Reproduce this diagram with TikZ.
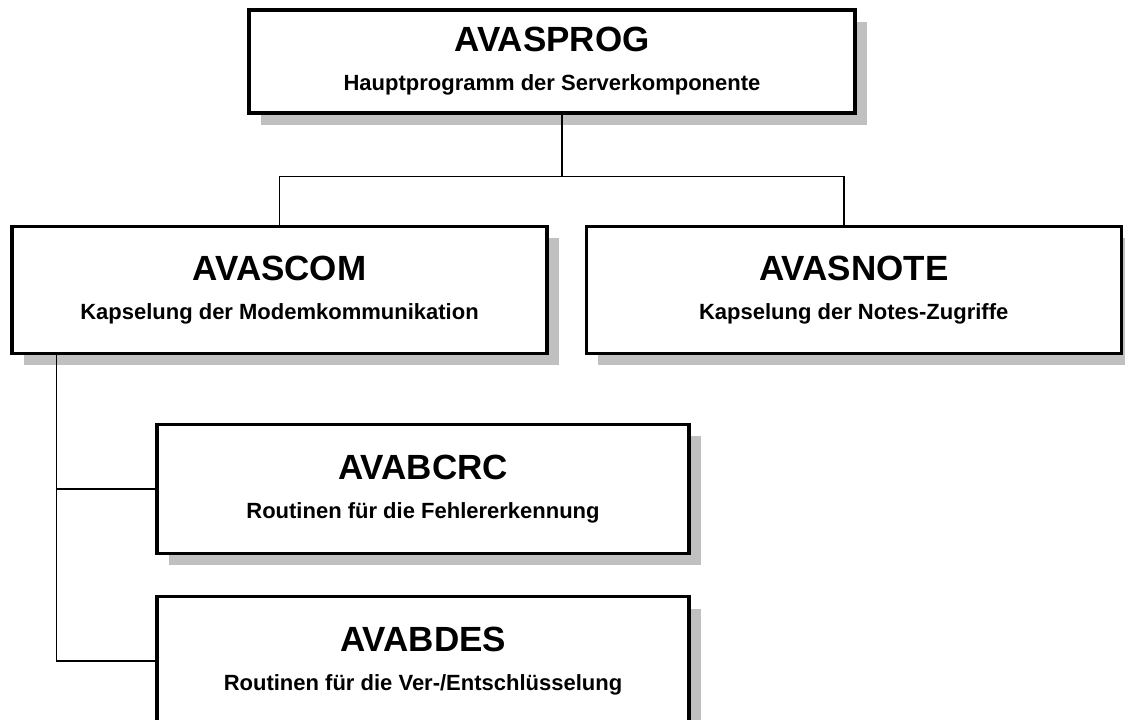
\documentclass[tikz,border=0pt]{standalone}
\usepackage{fontspec}
\setmainfont{Liberation Sans}
\usepackage{xcolor}
\usepackage{tikz}
\usetikzlibrary{positioning,shadows}

\definecolor{shadowgray}{RGB}{192,192,192}
\newcommand{\modname}[1]{{\fontsize{35}{35}\selectfont #1}}

\begin{document}
\begin{tikzpicture}[
    x=1pt, y=1pt,
    modul/.style={rectangle, draw, line width=3.2pt, fill=white, inner sep=0pt,
        minimum width=535pt, minimum height=127pt, align=center,
        font=\fontsize{22}{26}\selectfont\bfseries,
        drop shadow={shadow xshift=12pt, shadow yshift=-12pt, fill=shadowgray, opacity=1}},
    conn/.style={line width=1.6pt}
]
\useasboundingbox (0,0) rectangle (1125,-720);

% main program
\node[modul, minimum width=606pt, minimum height=103pt] (prog) at (552,-61.5)
    {\modname{AVASPROG}\\[13pt]Hauptprogramm der Serverkomponente};

% second level
\node[modul, below=110pt of prog, xshift=-272.5pt] (com)
    {\modname{AVASCOM}\\[13pt]Kapselung der Modemkommunikation};
\node[modul, right=36pt of com] (note)
    {\modname{AVASNOTE}\\[13pt]Kapselung der Notes-Zugriffe};

% below AVASCOM
\node[modul, minimum width=532pt, minimum height=129pt, below=68pt of com, xshift=143.5pt] (crc)
    {\modname{AVABCRC}\\[13pt]Routinen f\"ur die Fehlererkennung};
\node[modul, minimum width=532pt, minimum height=129pt, below=40pt of crc] (des)
    {\modname{AVABDES}\\[13pt]Routinen f\"ur die Ver-/Entschl\"usselung};

% connectors
\coordinate[below=62pt of prog.south, xshift=10pt] (bus);
\draw[conn] (prog.south -| bus) -- (bus);
\draw[conn] (com.north) |- (bus) -| ([xshift=-9.5pt]note.north);

\coordinate[xshift=46pt] (trunk) at (com.south west);
\draw[conn] (trunk) |- (crc.west);
\draw[conn] (trunk) |- (des.west);
\end{tikzpicture}
\end{document}
